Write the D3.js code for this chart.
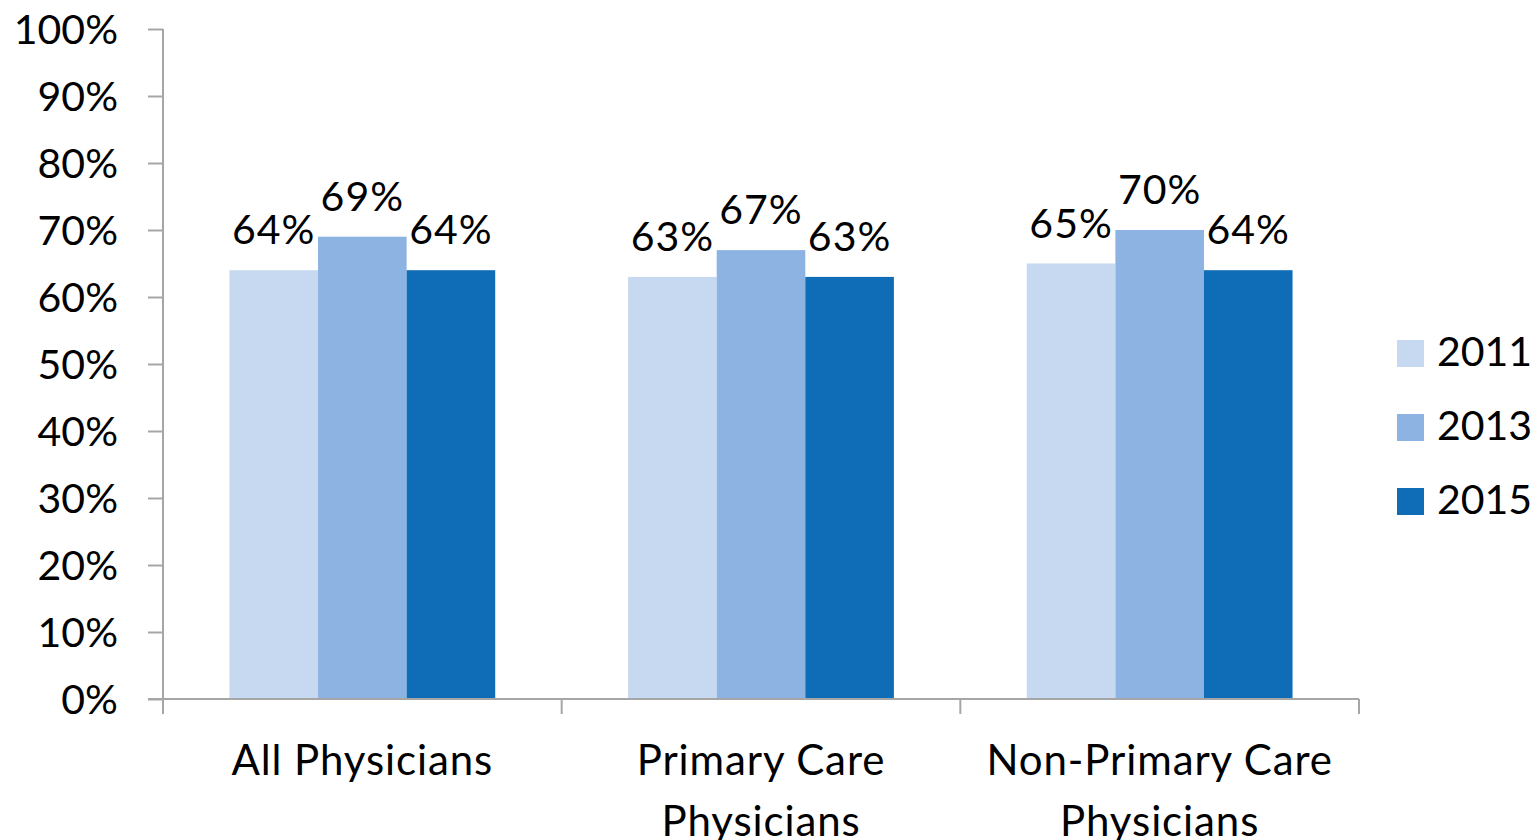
<!DOCTYPE html>
<html>
<head>
<meta charset="utf-8">
<script src="https://cdn.jsdelivr.net/npm/d3@7"></script>
<style>
  html, body { margin: 0; padding: 0; background: #fff; }
  svg { display: block; }
  text { font-family: Lato, "Open Sans", sans-serif; fill: #000; }
</style>
</head>
<body>
<svg id="chart" width="1539" height="840"></svg>
<script>
// Share of physicians, by group and survey year
const categories = ["All Physicians", "Primary Care Physicians", "Non-Primary Care Physicians"];
const years = ["2011", "2013", "2015"];
const values2011 = [64, 63, 65];
const values2013 = [69, 67, 70];
const values2015 = [64, 63, 64];
const yTicks = [0, 10, 20, 30, 40, 50, 60, 70, 80, 90, 100];
const colors = ["#C6D9F0", "#8DB3E2", "#0F6CB6"];

const seriesValues = [values2011, values2013, values2015];
const rows = categories.map((c, i) => ({
  category: c,
  values: years.map((y, j) => ({ year: y, value: seriesValues[j][i] }))
}));

const svg = d3.select("#chart");
const plot = { left: 163, right: 1359, top: 29, bottom: 699 };
const axisColor = "#A6A6A6";
const fontSize = 41;
const catFontSize = 42;

const x = d3.scaleBand().domain(categories).range([plot.left, plot.right]).paddingInner(0).paddingOuter(0);
const xs = d3.scaleBand().domain(years).range([0, x.bandwidth()]).paddingInner(0).paddingOuter(0.75);
const y = d3.scaleLinear().domain([0, 100]).range([plot.bottom, plot.top]);

// Y axis
const yAxis = svg.append("g")
  .attr("transform", `translate(${plot.left},0)`)
  .call(d3.axisLeft(y).tickValues(yTicks).tickFormat(d => d + "%").tickSize(15).tickPadding(30));
yAxis.select(".domain").attr("stroke", axisColor).attr("stroke-width", 2).attr("d", `M0,${plot.top}V${plot.bottom}`);
yAxis.selectAll(".tick line").attr("stroke", axisColor).attr("stroke-width", 2);
yAxis.selectAll(".tick text")
  .attr("font-size", fontSize).attr("dy", "0.35em")
  .style("font-family", "Lato, 'Open Sans', sans-serif").attr("fill", "#000");

// Bars
const groups = svg.append("g").selectAll("g")
  .data(rows).join("g")
  .attr("transform", d => `translate(${x(d.category)},0)`);

groups.selectAll("rect")
  .data(d => d.values).join("rect")
  .attr("x", d => xs(d.year))
  .attr("width", xs.bandwidth())
  .attr("y", d => y(d.value))
  .attr("height", d => y(0) - y(d.value))
  .attr("fill", (d, i) => colors[i]);

// Value labels
groups.selectAll("text.value")
  .data(d => d.values).join("text")
  .attr("class", "value")
  .attr("x", d => xs(d.year) + xs.bandwidth() / 2)
  .attr("y", d => y(d.value) - 26)
  .attr("text-anchor", "middle")
  .attr("font-size", fontSize)
  .attr("letter-spacing", 1)
  .text(d => d.value + "%");

// X axis line and boundary ticks
const xAxis = svg.append("g");
xAxis.append("line")
  .attr("x1", plot.left - 15).attr("x2", plot.right)
  .attr("y1", y(0)).attr("y2", y(0))
  .attr("stroke", axisColor).attr("stroke-width", 2);
const bounds = categories.map(c => x(c)).concat([x(categories[categories.length - 1]) + x.bandwidth()]);
xAxis.selectAll("line.tick")
  .data(bounds).join("line")
  .attr("class", "tick")
  .attr("x1", d => d).attr("x2", d => d)
  .attr("y1", y(0)).attr("y2", y(0) + 15)
  .attr("stroke", axisColor).attr("stroke-width", 2);

// Category labels, wrapped to the band width
const catLabels = xAxis.selectAll("text.cat")
  .data(categories).join("text")
  .attr("class", "cat")
  .attr("x", d => x(d) + x.bandwidth() / 2)
  .attr("y", 775)
  .attr("text-anchor", "middle")
  .attr("font-size", catFontSize)
  .attr("letter-spacing", 0.9);

catLabels.each(function(d) {
  const el = d3.select(this);
  const cx = x(d) + x.bandwidth() / 2;
  const words = d.split(" ");
  const maxW = x.bandwidth() * 0.95;
  let lines = [];
  let line = [];
  const probe = el.append("tspan");
  words.forEach(w => {
    const test = line.concat([w]).join(" ");
    probe.text(test);
    if (probe.node().getComputedTextLength() > maxW && line.length) {
      lines.push(line.join(" "));
      line = [w];
    } else {
      line.push(w);
    }
  });
  lines.push(line.join(" "));
  probe.remove();
  lines.forEach((l, i) => {
    el.append("tspan").attr("x", cx).attr("dy", i === 0 ? 0 : 61).text(l);
  });
});

// Legend
const legend = svg.append("g");
const legendItems = legend.selectAll("g")
  .data(years).join("g")
  .attr("transform", (d, i) => `translate(1397,${340 + i * 74})`);
legendItems.append("rect")
  .attr("width", 27).attr("height", 27)
  .attr("fill", (d, i) => colors[i]);
legendItems.append("text")
  .attr("x", 40).attr("y", 26)
  .attr("font-size", fontSize)
  .text(d => d);
</script>
</body>
</html>
